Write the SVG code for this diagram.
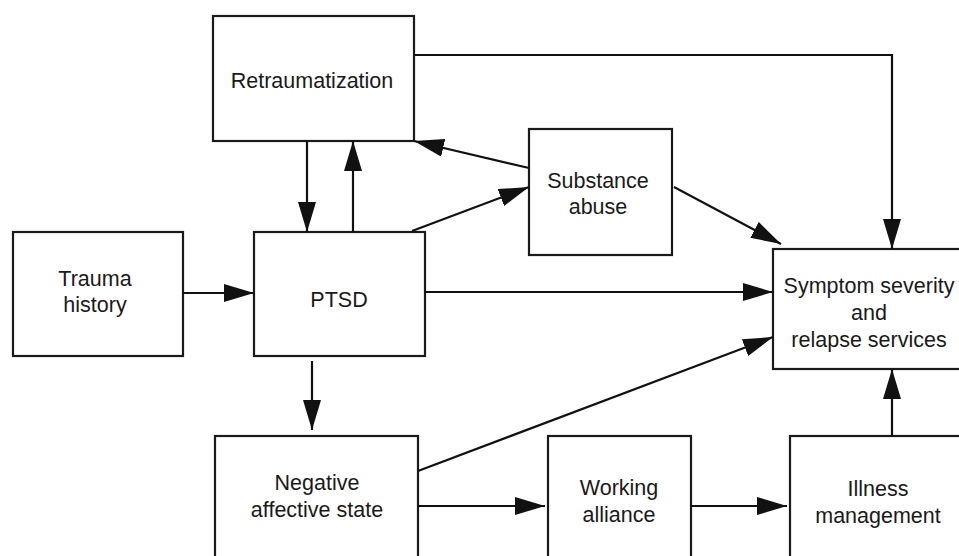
<svg xmlns="http://www.w3.org/2000/svg" width="959" height="556" viewBox="0 0 959 556">
<style>
.box{fill:#fff;stroke:#1a1a1a;stroke-width:2.2}
.lbl{font-family:"Liberation Sans",Arial,Helvetica,sans-serif;font-size:21.5px;fill:#1a1a1a;text-anchor:middle}
.con{fill:none;stroke:#111;stroke-width:2.2;marker-end:url(#ah)}
</style>
<defs>
<marker id="ah" viewBox="0 0 30 18" refX="30" refY="9" markerWidth="30" markerHeight="18" markerUnits="userSpaceOnUse" orient="auto">
<path d="M0,0 L30,9 L0,18 z" fill="#111"/>
</marker>
</defs>
<rect width="959" height="556" fill="#fff"/>
<g id="retraumatization">
<rect class="box" x="213" y="16" width="201" height="125"/>
<text class="lbl" x="312" y="88">Retraumatization</text>
</g>
<g id="substance-abuse">
<rect class="box" x="529" y="129" width="143" height="126"/>
<text class="lbl" x="598" y="188">Substance</text>
<text class="lbl" x="598" y="214">abuse</text>
</g>
<g id="trauma-history">
<rect class="box" x="13" y="232" width="170" height="124"/>
<text class="lbl" x="95" y="286">Trauma</text>
<text class="lbl" x="95" y="312">history</text>
</g>
<g id="ptsd">
<rect class="box" x="254" y="232" width="171" height="124"/>
<text class="lbl" x="339" y="307">PTSD</text>
</g>
<g id="symptom-severity">
<rect class="box" x="773" y="249" width="195" height="120"/>
<text class="lbl" x="869" y="293">Symptom severity</text>
<text class="lbl" x="869" y="320">and</text>
<text class="lbl" x="869" y="347">relapse services</text>
</g>
<g id="negative-affective-state">
<rect class="box" x="215" y="436" width="203" height="140"/>
<text class="lbl" x="317" y="490">Negative</text>
<text class="lbl" x="317" y="517">affective state</text>
</g>
<g id="working-alliance">
<rect class="box" x="548" y="436" width="143" height="140"/>
<text class="lbl" x="619" y="495">Working</text>
<text class="lbl" x="619" y="522">alliance</text>
</g>
<g id="illness-management">
<rect class="box" x="790" y="436" width="180" height="140"/>
<text class="lbl" x="878" y="496">Illness</text>
<text class="lbl" x="878" y="523">management</text>
</g>
<g id="connectors">
<path class="con" d="M183,293 L254,293"/>
<path class="con" d="M425,292 L773,292"/>
<path class="con" d="M307,141 L307,232"/>
<path class="con" d="M353,232 L353,141"/>
<path class="con" d="M412,231 L529,187"/>
<path class="con" d="M529,168 L414,141"/>
<path class="con" d="M674,187 L781,244"/>
<path class="con" d="M414,55 H892 V249"/>
<path class="con" d="M312,361 V430"/>
<path class="con" d="M418,471 L773,337"/>
<path class="con" d="M418,506 L545,506"/>
<path class="con" d="M691,506 L787,506"/>
<path class="con" d="M892,436 V369"/>
</g>
</svg>
